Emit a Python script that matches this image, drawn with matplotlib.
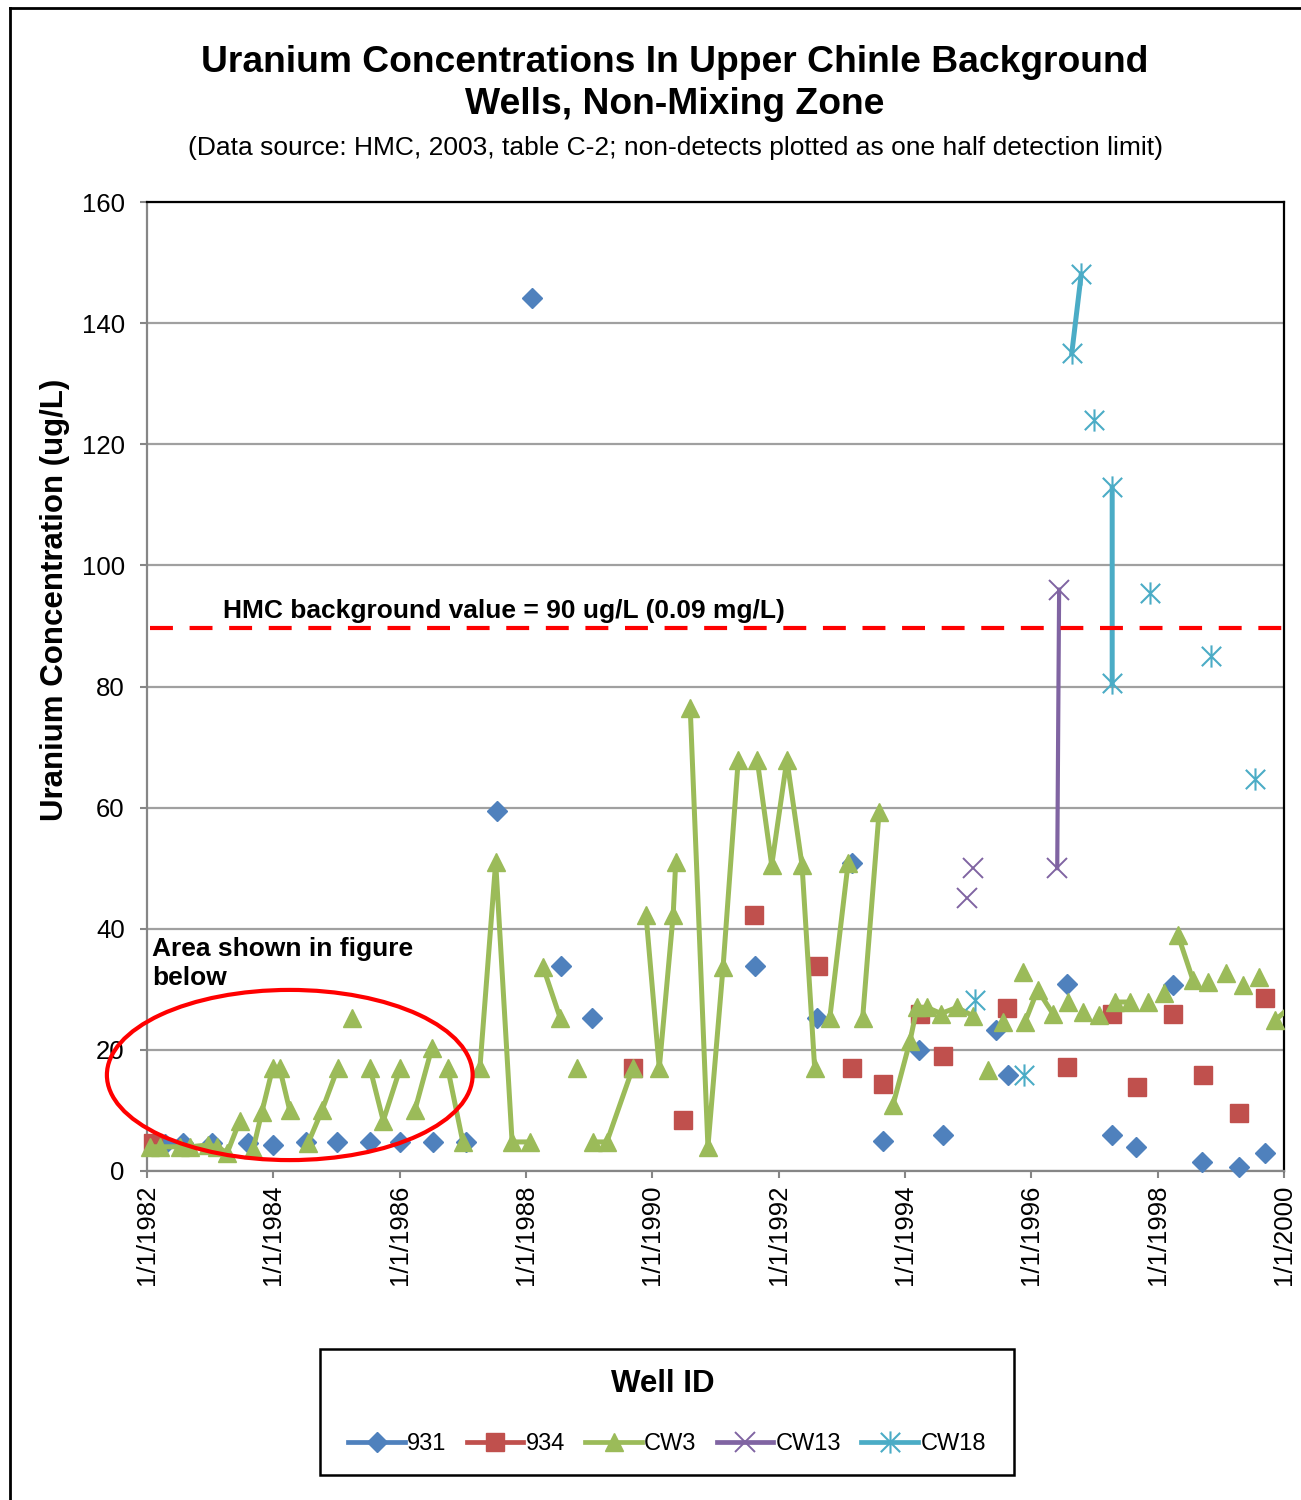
import numpy as np
import matplotlib
matplotlib.use("Agg")
import matplotlib.pyplot as plt
from matplotlib.patches import Ellipse, Rectangle
from matplotlib.lines import Line2D
from matplotlib.path import Path

plt.rcParams['font.family'] = ['Liberation Sans', 'DejaVu Sans']

# --- dados (datas em anos decimais, valores em ug/L) ---
nan = np.nan

w931_dates = [1982.28, 1982.57, 1983.03, 1983.60, 1983.99, 1984.52, 1985.01, 1985.53,
              1986.01, 1986.53, 1987.05, 1987.54, 1988.10, 1988.55, 1989.04, 1991.62,
              1992.60, 1993.16, 1993.65, 1994.22, 1994.60, 1995.44, 1995.63, 1996.56,
              1997.28, 1997.66, 1998.24, 1998.70, 1999.29, 1999.70]
w931_vals = [4.5, 4.6, 4.6, 4.6, 4.3, 4.8, 4.8, 4.8,
             4.8, 4.8, 4.8, 59.4, 144.2, 33.9, 25.3, 33.9,
             25.3, 50.9, 5.0, 20.0, 6.0, 23.3, 15.9, 30.9,
             6.0, 4.0, 30.7, 1.5, 0.7, 3.0]

w934_dates = [1982.10, 1989.69, 1990.49, 1991.61, 1992.62, 1993.16, 1993.65, 1994.24,
              1994.60, 1995.61, 1996.56, 1997.28, 1997.67, 1998.24, 1998.72, 1999.29, 1999.70]
w934_vals = [4.6, 17.0, 8.4, 42.3, 33.9, 17.0, 14.4, 26.0,
             19.0, 26.9, 17.2, 26.0, 13.9, 26.0, 15.9, 9.6, 28.6]

# nan = quebra da linha (celula vazia na planilha)
cw3_dates = [1982.05, 1982.21, 1982.52, 1982.68, 1982.97, 1983.11, 1983.27, 1983.47, nan,
             1983.68, 1983.82, 1983.99, 1984.10, 1984.26, nan,
             1984.55, 1984.77, 1985.02, nan,
             1985.25, nan,
             1985.53, 1985.74, 1986.01, nan,
             1986.24, 1986.51, nan,
             1986.76, 1987.00, nan,
             1987.27, 1987.52, 1987.78, 1988.06, nan,
             1988.27, 1988.54, nan,
             1988.80, nan,
             1989.06, 1989.28, 1989.69, nan,
             1989.90, 1990.11, 1990.33, 1990.37, nan,
             1990.60, 1990.88, 1991.12, 1991.36, nan,
             1991.66, 1991.89, 1992.13, 1992.37, 1992.57, nan,
             1992.81, 1993.10, nan,
             1993.33, 1993.59, nan,
             1993.81, 1994.08, 1994.19, 1994.35, 1994.57, 1994.82, 1995.08, nan,
             1995.31, nan,
             1995.55, nan,
             1995.87, nan,
             1995.90, 1996.10, 1996.34, nan,
             1996.58, nan,
             1996.82, nan,
             1997.07, nan,
             1997.32, 1997.56, nan,
             1997.85, nan,
             1998.10, nan,
             1998.32, 1998.56, nan,
             1998.80, nan,
             1999.08, nan,
             1999.35, nan,
             1999.60, nan,
             1999.86, 2000.20]
cw3_vals = [4.0, 4.0, 4.0, 4.0, 4.3, 4.0, 3.0, 8.3, nan,
            3.6, 9.8, 17.0, 17.0, 10.0, nan,
            4.6, 10.0, 17.0, nan,
            25.3, nan,
            17.0, 8.3, 17.0, nan,
            10.0, 20.3, nan,
            17.0, 4.8, nan,
            17.0, 51.0, 4.8, 4.8, nan,
            33.7, 25.3, nan,
            17.0, nan,
            4.8, 4.8, 17.0, nan,
            42.3, 17.0, 42.3, 51.0, nan,
            76.4, 4.0, 33.7, 67.9, nan,
            67.9, 50.5, 67.9, 50.5, 17.0, nan,
            25.3, 50.9, nan,
            25.3, 59.3, nan,
            10.9, 21.5, 27.0, 27.0, 26.0, 27.0, 25.6, nan,
            16.7, nan,
            24.6, nan,
            32.9, nan,
            24.6, 29.9, 26.0, nan,
            27.9, nan,
            26.3, nan,
            25.8, nan,
            27.9, 27.9, nan,
            27.9, nan,
            29.4, nan,
            39.0, 31.5, nan,
            31.2, nan,
            32.7, nan,
            30.7, nan,
            32.0, nan,
            24.9, 28.0]

cw13_dates = [1994.98, nan, 1995.08, nan, 1996.41, 1996.44]
cw13_vals = [45.0, nan, 50.0, nan, 50.0, 96.0]

cw18_dates = [1995.11, nan, 1995.88, nan, 1996.64, 1996.79, nan, 1996.99, nan,
              1997.28, 1997.28, nan, 1997.88, nan, 1998.84, nan, 1999.54]
cw18_vals = [28.2, nan, 15.9, nan, 135.0, 148.1, nan, 124.0, nan,
             112.9, 80.6, nan, 95.4, nan, 85.0, nan, 64.7]

hmc_background = 89.6
year_ticks = list(range(1982, 2001, 2))
year_labels = [f'1/1/{y}' for y in year_ticks]

# --- cores estilo Excel 2007 ---
c931, c934, ccw3, ccw13, ccw18 = '#4F81BD', '#C0504D', '#9BBB59', '#8064A2', '#4BACC6'

# marcador asterisco (x + traco vertical)
star = Path([(-1, -1), (1, 1), (-1, 1), (1, -1), (0, -1.15), (0, 1.15)],
            [Path.MOVETO, Path.LINETO] * 3)

fig = plt.figure(figsize=(13.01, 15.0), dpi=100)
ax = fig.add_axes([147/1301, 1-1171/1500, (1284-147)/1301, (1171-202)/1500])

ax.plot(w931_dates, w931_vals, ls='none', marker='D', ms=10, color=c931, mec=c931, clip_on=False, zorder=3)
ax.plot(w934_dates, w934_vals, ls='none', marker='s', ms=13.5, color=c934, mec=c934, clip_on=False, zorder=3)

cw3_x = np.array(cw3_dates, dtype=float)
cw3_y = np.array(cw3_vals, dtype=float)
ax.plot(cw3_x, cw3_y, color=ccw3, lw=3.6, zorder=4)
dentro = cw3_x <= 2000
ax.plot(cw3_x[dentro], cw3_y[dentro], ls='none', marker='^', ms=13.5, color=ccw3, mec=ccw3,
        clip_on=False, zorder=4)

ax.plot(cw13_dates, cw13_vals, color=ccw13, lw=3.0, marker='x', ms=14, mew=1.4, zorder=5)
ax.plot(cw18_dates, cw18_vals, color=ccw18, lw=3.6, marker=star, ms=16, mew=1.5, mec=ccw18, zorder=5)

# linha de referencia HMC
ax.plot([1982.05, 2000], [hmc_background, hmc_background], color='red', lw=3,
        ls=(0, (5.5, 4)), zorder=6)
ax.text(1983.2, 92.5, 'HMC background value = 90 ug/L (0.09 mg/L)', fontsize=19,
        fontweight='bold', va='center', ha='left', zorder=7)

ax.text(1982.08, 34.3, 'Area shown in figure\nbelow', fontsize=19, fontweight='bold',
        va='center', ha='left', linespacing=1.25, zorder=7)
ax.add_patch(Ellipse((1984.26, 15.85), 5.79, 28.1, fill=False, ec='red', lw=3,
                     clip_on=False, zorder=8))

ax.set_xlim(1982, 2000)
ax.set_ylim(0, 160)
ax.set_yticks(range(0, 161, 20))
ax.set_xticks(year_ticks)
ax.set_xticklabels(year_labels, rotation=90)
ax.tick_params(axis='both', labelsize=18.5, color='#868686', width=1.5, length=5, direction='out')
ax.tick_params(axis='x', pad=5)
ax.tick_params(axis='y', pad=11)
ax.yaxis.grid(True, color='#a0a0a0', lw=1.6)
ax.set_axisbelow(True)
for lado in ['left', 'bottom']:
    ax.spines[lado].set_color('#868686')
    ax.spines[lado].set_linewidth(1.6)
for lado in ['top', 'right']:
    ax.spines[lado].set_color('black')
    ax.spines[lado].set_linewidth(1.6)

# titulos
fig.text(675/1301, 1-62/1500, 'Uranium Concentrations In Upper Chinle Background', fontsize=26.8,
         fontweight='bold', ha='center', va='center')
fig.text(675/1301, 1-105/1500, 'Wells, Non-Mixing Zone', fontsize=26.8,
         fontweight='bold', ha='center', va='center')
fig.text(675/1301, 1-148/1500,
         '(Data source: HMC, 2003, table C-2; non-detects plotted as one half detection limit)',
         fontsize=19, ha='center', va='center')
fig.text(55/1301, 1-600/1500, 'Uranium Concentration (ug/L)', fontsize=22.5, fontweight='bold',
         rotation=90, ha='center', va='center')

# legenda
fig.patches.append(Rectangle((320/1301, 1-1475/1500), 694/1301, 126/1500, transform=fig.transFigure,
                             fill=False, ec='black', lw=1.8))
fig.text(663/1301, 1-1384/1500, 'Well ID', fontsize=22.5, fontweight='bold', ha='center', va='center')
handles = [
    Line2D([], [], color=c931, lw=3.4, marker='D', ms=10),
    Line2D([], [], color=c934, lw=3.4, marker='s', ms=13.5),
    Line2D([], [], color=ccw3, lw=3.4, marker='^', ms=13.5),
    Line2D([], [], color=ccw13, lw=3.4, marker='x', ms=14, mew=1.4),
    Line2D([], [], color=ccw18, lw=3.4, marker=star, ms=16, mew=1.5, mec=ccw18),
]
fig.legend(handles, ['931', '934', 'CW3', 'CW13', 'CW18'], loc='center',
           bbox_to_anchor=(667/1301, 1-1444/1500), ncol=5, frameon=False, fontsize=17,
           handlelength=2.4, handletextpad=0.1, columnspacing=0.85)

# moldura da area do grafico (so topo e esquerda aparecem)
fig.add_artist(Line2D([10/1301, 10/1301], [0, 1-8/1500], transform=fig.transFigure, color='black', lw=2))
fig.add_artist(Line2D([10/1301, 1], [1-8/1500, 1-8/1500], transform=fig.transFigure, color='black', lw=2))

fig.savefig('out.png', dpi=100)
